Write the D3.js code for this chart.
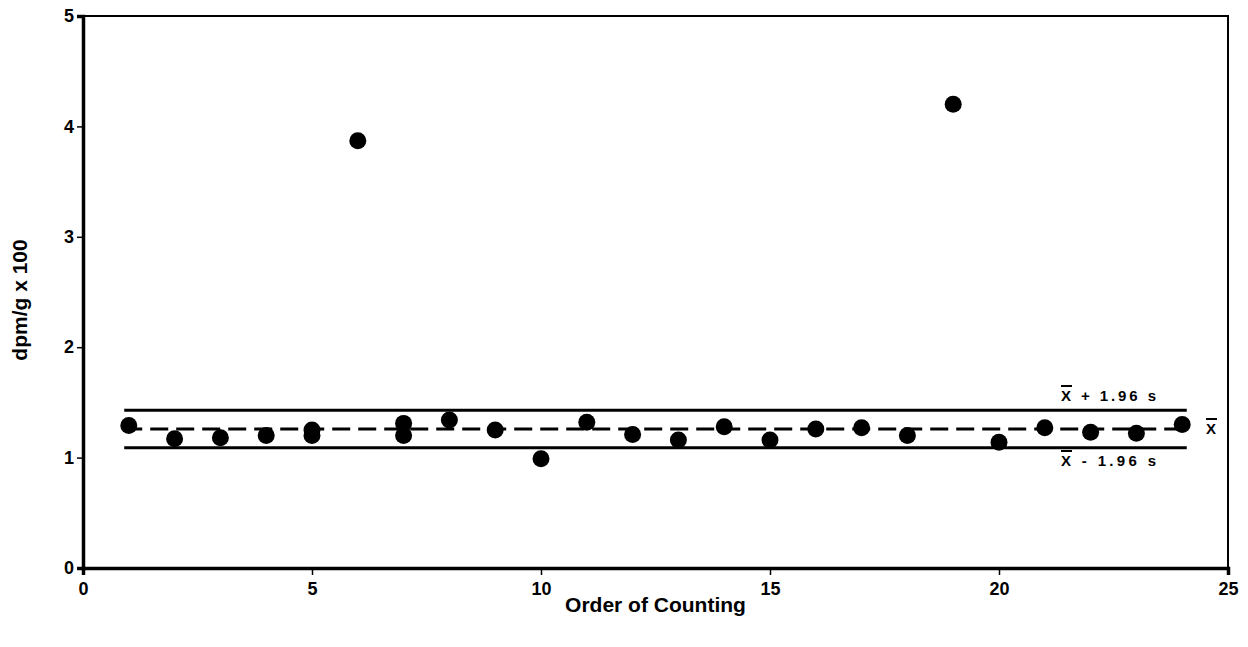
<!DOCTYPE html>
<html>
<head>
<meta charset="utf-8">
<script src="https://cdn.jsdelivr.net/npm/d3@7"></script>
<style>
  body { margin: 0; background: #fff; }
  text { font-family: "Liberation Sans", Arial, sans-serif; font-weight: bold; fill: #000; }
  .axis text { font-size: 18px; }
</style>
</head>
<body>
<script>
// order of counting (x) and measured activity (y)
var order  = [1, 2, 3, 4, 5, 5, 6, 7, 7, 8, 9, 10, 11, 12, 13, 14, 15, 16, 17, 18, 19, 20, 21, 22, 23, 24];
var values = [1.29, 1.17, 1.18, 1.2, 1.25, 1.2, 3.87, 1.31, 1.2, 1.34, 1.25, 0.99, 1.32, 1.21, 1.16, 1.28, 1.16, 1.26, 1.27, 1.2, 4.2, 1.14, 1.27, 1.23, 1.22, 1.3];

var mean = 1.26, upper = 1.43, lower = 1.09;
var lineStart = 0.9, lineEnd = 24.1;

var xTicks = [0, 5, 10, 15, 20, 25];
var yTicks = [0, 1, 2, 3, 4, 5];

var width = 1248, height = 647;
var margin = {top: 16, right: 20, bottom: 79, left: 83};

var svg = d3.select("body")
    .append("svg")
    .attr("width", width)
    .attr("height", height);

var x = d3.scaleLinear()
    .domain([0, 25])
    .range([margin.left, width - margin.right]);

var y = d3.scaleLinear()
    .domain([0, 5])
    .range([height - margin.bottom, margin.top]);

// frame
svg.append("rect")
    .attr("x", x(0))
    .attr("y", y(5))
    .attr("width", x(25) - x(0))
    .attr("height", y(0) - y(5))
    .style("fill", "none")
    .style("stroke", "#000")
    .style("stroke-width", 2);

// axes
var xAxis = svg.append("g")
    .attr("class", "axis")
    .attr("transform", "translate(0," + y(0) + ")")
    .call(d3.axisBottom(x).tickValues(xTicks).tickSize(7).tickPadding(7).tickFormat(d3.format("d")));

var yAxis = svg.append("g")
    .attr("class", "axis")
    .attr("transform", "translate(" + x(0) + ",0)")
    .call(d3.axisLeft(y).tickValues(yTicks).tickSize(6).tickPadding(3).tickFormat(d3.format("d")));

[xAxis, yAxis].forEach(function(a) {
    a.attr("font-size", 18).attr("font-family", null);
    a.select(".domain").style("stroke", "#000").style("stroke-width", 3.5);
    a.selectAll(".tick line").style("stroke", "#000").style("stroke-width", 1.5);
});

// control lines
svg.append("line")
    .attr("x1", x(lineStart)).attr("x2", x(lineEnd))
    .attr("y1", y(upper)).attr("y2", y(upper))
    .style("stroke", "#000").style("stroke-width", 3);

svg.append("line")
    .attr("x1", x(lineStart)).attr("x2", x(lineEnd))
    .attr("y1", y(lower)).attr("y2", y(lower))
    .style("stroke", "#000").style("stroke-width", 3);

svg.append("line")
    .attr("x1", x(lineStart)).attr("x2", x(lineEnd))
    .attr("y1", y(mean)).attr("y2", y(mean))
    .style("stroke", "#000").style("stroke-width", 3)
    .style("stroke-dasharray", "18,8");

// points
svg.append("g")
    .selectAll("circle")
    .data(order)
    .enter().append("circle")
    .attr("cx", function(d) { return x(d); })
    .attr("cy", function(d, i) { return y(values[i]); })
    .attr("r", 8.5)
    .style("fill", "#000");

// labels for the lines, with a drawn bar over the X
function barLabel(px, py, rest, len) {
    var t = svg.append("text")
        .attr("x", px)
        .attr("y", py)
        .style("font-size", "15px")
        .text("X" + rest);
    if (len) t.attr("textLength", len).attr("lengthAdjust", "spacing");
    var xw = 11;
    svg.append("line")
        .attr("x1", px).attr("x2", px + xw)
        .attr("y1", py - 15).attr("y2", py - 15)
        .style("stroke", "#000").style("stroke-width", 2);
}
barLabel(1061, 401, " + 1.96 s", 95);
barLabel(1061, 466, " - 1.96 s", 95);
barLabel(1206, 434, "");

// axis titles
svg.append("text")
    .attr("x", x(12.5))
    .attr("y", 612)
    .attr("text-anchor", "middle")
    .style("font-size", "21px")
    .text("Order of Counting");

svg.append("text")
    .attr("transform", "translate(27,300) rotate(-90)")
    .attr("text-anchor", "middle")
    .style("font-size", "21px")
    .text("dpm/g x 100");
</script>
</body>
</html>
